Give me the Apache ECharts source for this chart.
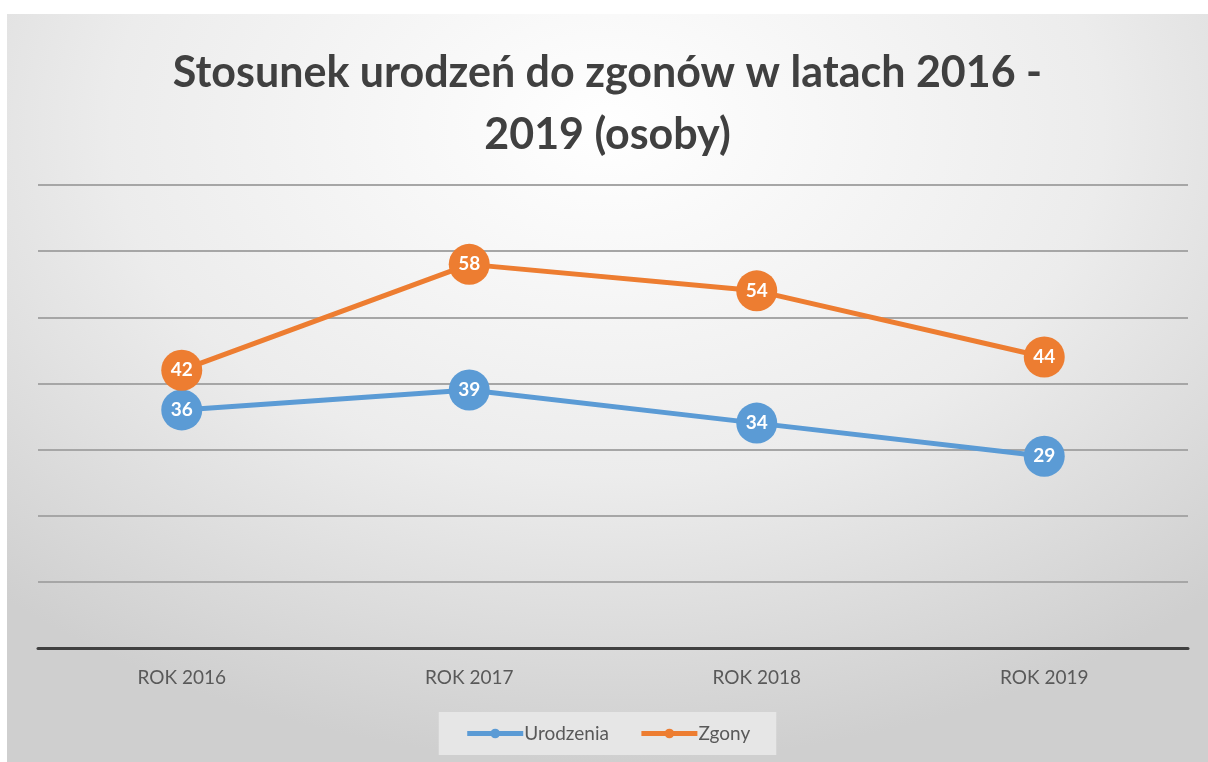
<!DOCTYPE html>
<html>
<head>
<meta charset="utf-8">
<script src="https://cdn.jsdelivr.net/npm/echarts@6/dist/echarts.min.js"></script>
<style>
    html, body { margin: 0; padding: 0; background: #fff; width: 1208px; height: 762px; overflow: hidden; }
    #chart {
        position: absolute; left: 7px; top: 14px; width: 1201px; height: 748px;
        background: radial-gradient(ellipse 75% 85% at 50% 15%, #ffffff 0%, #ececec 55%, #cfcfcf 100%);
    }
</style>
</head>
<body>
<div id="chart"></div>
<script>
const categories = ['ROK 2016', 'ROK 2017', 'ROK 2018', 'ROK 2019']
const urodzenia = [36, 39, 34, 29]
const zgony = [42, 58, 54, 44]

const myChart = echarts.init(document.getElementById('chart'))
const fontFamily = 'Lato, "Open Sans", sans-serif'

function lineSeries(name, data, color) {
    return {
        name: name,
        type: 'line',
        data: data,
        symbol: 'circle',
        symbolSize: 41,
        lineStyle: { width: 5, color: color },
        itemStyle: { color: color },
        label: {
            show: true,
            position: 'inside',
            color: '#fff',
            fontWeight: 'bold',
            fontSize: 19,
            fontFamily: fontFamily
        }
    }
}

const option = {
    backgroundColor: 'transparent',
    title: {
        text: 'Stosunek urodzeń do zgonów w latach 2016 -\n2019 (osoby)',
        left: 'center',
        top: 23,
        textStyle: {
            fontFamily: fontFamily,
            fontSize: 43,
            fontWeight: 'bold',
            color: '#404040',
            lineHeight: 62
        }
    },
    legend: {
        bottom: 7,
        left: 'center',
        itemWidth: 56,
        itemHeight: 12,
        itemGap: 30,
        padding: [12, 26],
        backgroundColor: '#e6e6e6',
        lineStyle: { width: 5 },
        textStyle: { fontFamily: fontFamily, fontSize: 19, color: '#595959', padding: [0, 0, 0, -4] },
        data: ['Urodzenia', 'Zgony']
    },
    grid: {
        left: 31,
        right: 20,
        top: 171,
        bottom: 114
    },
    xAxis: {
        type: 'category',
        data: categories,
        boundaryGap: true,
        axisTick: { show: false },
        axisLine: { lineStyle: { color: '#404040', width: 3 } },
        axisLabel: { fontFamily: fontFamily, fontSize: 19, color: '#595959', margin: 20 }
    },
    yAxis: {
        type: 'value',
        min: 0,
        max: 70,
        interval: 10,
        axisLabel: { show: false },
        axisLine: { show: false },
        axisTick: { show: false },
        splitLine: { lineStyle: { color: '#a6a6a6', width: 2 } }
    },
    series: [
        lineSeries('Urodzenia', urodzenia, '#5b9bd5'),
        lineSeries('Zgony', zgony, '#ed7d31')
    ]
}

myChart.setOption(option)
</script>
</body>
</html>
